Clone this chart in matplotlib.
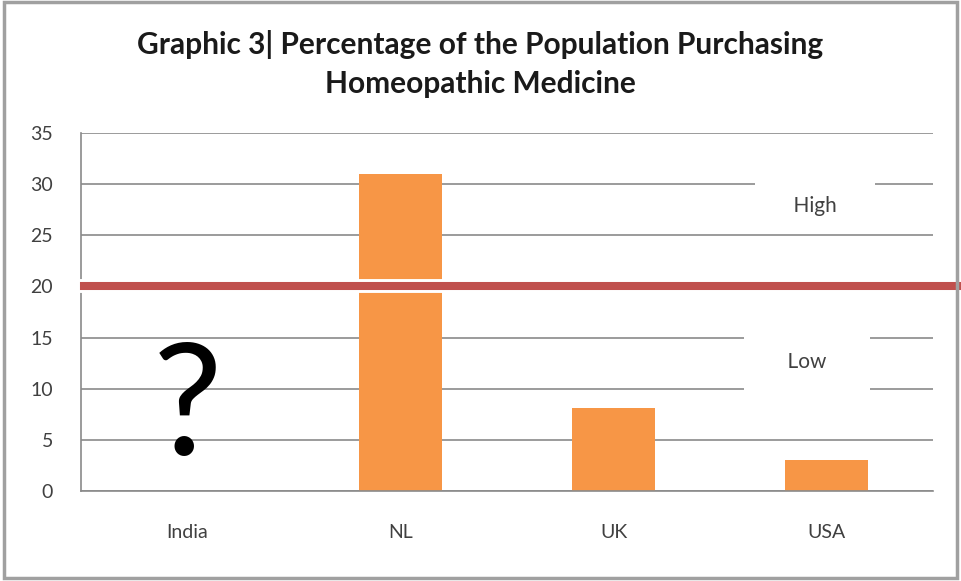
import matplotlib.pyplot as plt
import matplotlib.patheffects as pe
from matplotlib.patches import Rectangle

plt.rcParams['font.family'] = ['Lato', 'DejaVu Sans']

countries = ['India', 'NL', 'UK', 'USA']
percent = [0, 31, 8.1, 3]
threshold = 20
yticks = [0, 5, 10, 15, 20, 25, 30, 35]

fig = plt.figure(figsize=(9.61, 5.81), dpi=100)
ax = fig.add_axes([0.0843, 0.155, 0.8867, 0.616])

x = range(len(countries))
ax.bar(x, percent, width=0.39, color='#F79646', zorder=2)

ax.set_xlim(-0.5, 3.5)
ax.set_ylim(0, 35)
ax.set_yticks(yticks)
ax.set_xticks(list(x))
ax.set_xticklabels(countries)
ax.tick_params(axis='both', length=0, labelsize=14, colors='#404040')
ax.tick_params(axis='x', pad=24)
ax.tick_params(axis='y', pad=20)
ax.grid(axis='y', color='#8a8a8a', linewidth=1.2, zorder=0)
ax.set_axisbelow(True)
for s in ['top', 'right']:
    ax.spines[s].set_visible(False)
for s in ['left', 'bottom']:
    ax.spines[s].set_color('#8a8a8a')
    ax.spines[s].set_linewidth(1.2)

# threshold line, runs past the plot to the right edge
ax.axhline(threshold, xmin=0.004, xmax=1.04, color='#C0504D', linewidth=5.8,
           clip_on=False, zorder=3,
           path_effects=[pe.withStroke(linewidth=10, foreground='white')])

# labels sit in white boxes that cut the gridlines
ax.text(2.946, 27.9, '    High    ', ha='center', va='center', fontsize=15, color='#404040',
        zorder=4, bbox=dict(facecolor='white', edgecolor='none', pad=12))
ax.text(2.908, 12.6, '    Low    ', ha='center', va='center', fontsize=15, color='#404040',
        zorder=4, bbox=dict(facecolor='white', edgecolor='none', pad=16))
ax.text(0, 0.9, '?', ha='center', va='bottom', fontsize=112, color='black', zorder=4)

fig.text(0.5, 0.890, 'Graphic 3| Percentage of the Population Purchasing\nHomeopathic Medicine',
         ha='center', va='center', fontsize=21.5, fontweight='bold', color='#1a1a1a',
         linespacing=1.45)

fig.patches.append(Rectangle((0.004, 0.006), 0.992, 0.99, transform=fig.transFigure,
                             fill=False, edgecolor='#a0a0a0', linewidth=2.5))

fig.savefig('out.png', dpi=100)
